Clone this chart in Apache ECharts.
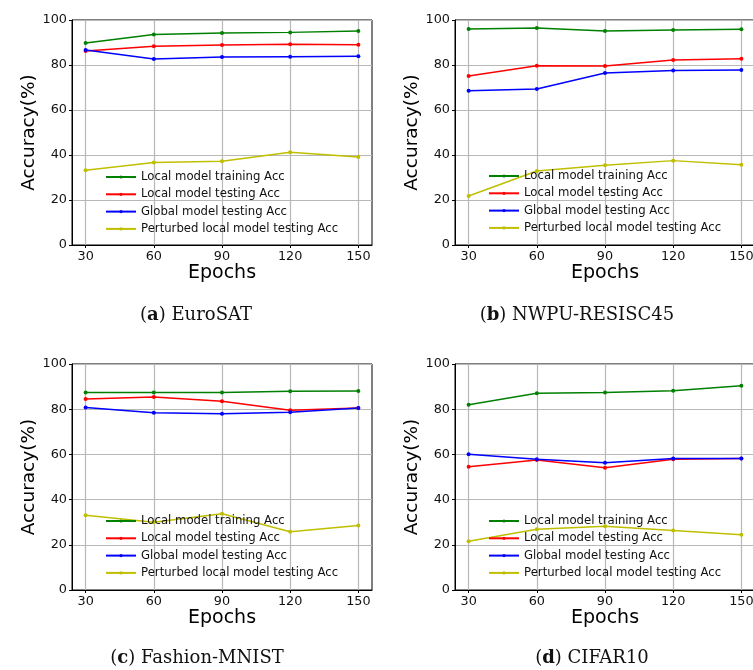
<!DOCTYPE html>
<html>
<head>
<meta charset="utf-8">
<script src="https://cdn.jsdelivr.net/npm/echarts@6/dist/echarts.min.js"></script>
<style>
  html, body { margin: 0; padding: 0; background: #fff; }
  #main { width: 753px; height: 670px; }
</style>
</head>
<body>
<div id="main"></div>
<script>
// x轴 epochs
var epochs = [30, 60, 90, 120, 150];
var yTicks = [0, 20, 40, 60, 80, 100];

var seriesNames = [
    'Local model training Acc',
    'Local model testing Acc',
    'Global model testing Acc',
    'Perturbed local model testing Acc'
];
var seriesColors = ['#008000', '#ff0000', '#0000ff', '#bfbf00'];

// (a) EuroSAT
var euroTrain = [89.8, 93.6, 94.2, 94.5, 95.1];
var euroTest = [86.2, 88.3, 88.9, 89.2, 89.0];
var euroGlobal = [86.7, 82.7, 83.6, 83.7, 83.9];
var euroPert = [33.2, 36.7, 37.2, 41.2, 39.1];

// (b) NWPU-RESISC45
var nwpuTrain = [96.0, 96.4, 95.1, 95.6, 95.9];
var nwpuTest = [75.1, 79.7, 79.6, 82.2, 82.8];
var nwpuGlobal = [68.6, 69.3, 76.4, 77.6, 77.8];
var nwpuPert = [21.8, 32.9, 35.4, 37.5, 35.7];

// (c) Fashion-MNIST
var fashionTrain = [87.4, 87.4, 87.4, 87.9, 88.0];
var fashionTest = [84.5, 85.4, 83.5, 79.5, 80.5];
var fashionGlobal = [80.7, 78.4, 78.0, 78.6, 80.5];
var fashionPert = [33.1, 30.0, 33.7, 25.8, 28.5];

// (d) CIFAR10
var cifarTrain = [82.0, 87.1, 87.4, 88.2, 90.4];
var cifarTest = [54.5, 57.5, 54.1, 57.9, 58.2];
var cifarGlobal = [60.1, 57.9, 56.3, 58.2, 58.2];
var cifarPert = [21.6, 26.9, 28.2, 26.3, 24.5];

var panelData = [
    [euroTrain, euroTest, euroGlobal, euroPert],
    [nwpuTrain, nwpuTest, nwpuGlobal, nwpuPert],
    [fashionTrain, fashionTest, fashionGlobal, fashionPert],
    [cifarTrain, cifarTest, cifarGlobal, cifarPert]
];
var captionLetters = ['a', 'b', 'c', 'd'];
var captionNames = ['EuroSAT', 'NWPU-RESISC45', 'Fashion-MNIST', 'CIFAR10'];

// 每个子图的位置
var panelPos = [
    {left: 72, top: 20, height: 225, legendLeft: 105, legendTop: 170, capX: 196, capY: 315},
    {left: 455, top: 20, height: 225, legendLeft: 488, legendTop: 169, capX: 577, capY: 315},
    {left: 72, top: 364, height: 226, legendLeft: 105, legendTop: 514, capX: 197, capY: 658},
    {left: 455, top: 364, height: 226, legendLeft: 488, legendTop: 514, capX: 592, capY: 658}
];

var sansFont = 'DejaVu Sans';

function pairs(xs, ys) {
    var out = [];
    for (var i = 0; i < xs.length; i++) {
        out.push([xs[i], ys[i]]);
    }
    return out;
}

var grids = [], xAxes = [], yAxes = [], series = [], legends = [], texts = [];

for (var p = 0; p < 4; p++) {
    var pos = panelPos[p];
    grids.push({
        left: pos.left, top: pos.top, width: 300, height: pos.height,
        show: true, borderColor: '#000', borderWidth: 1,
        outerBoundsMode: 'none', containLabel: false
    });
    xAxes.push({
        gridIndex: p,
        type: 'value',
        min: 24, max: 156,
        name: 'Epochs',
        nameLocation: 'middle',
        nameGap: 17,
        nameTextStyle: {fontFamily: sansFont, fontSize: 19, color: '#000'},
        axisLine: {show: true, lineStyle: {color: '#000', width: 1}},
        axisTick: {show: true, length: 3, customValues: epochs, lineStyle: {color: '#000'}},
        axisLabel: {customValues: epochs, margin: 5, fontFamily: sansFont, fontSize: 12.8, color: '#111'},
        splitLine: {show: true, lineStyle: {color: '#b8b8b8', width: 1.2}}
    });
    yAxes.push({
        gridIndex: p,
        type: 'value',
        min: 0, max: 100, interval: 20,
        name: 'Accuracy(%)',
        nameLocation: 'middle',
        nameGap: 32,
        nameTextStyle: {fontFamily: sansFont, fontSize: 18.5, color: '#000'},
        axisLine: {show: true, lineStyle: {color: '#000', width: 1}},
        axisTick: {show: true, length: 3, lineStyle: {color: '#000'}},
        axisLabel: {margin: 5, fontFamily: sansFont, fontSize: 12.8, color: '#111'},
        splitLine: {show: true, lineStyle: {color: '#b8b8b8', width: 1.2}}
    });
    for (var s = 0; s < 4; s++) {
        series.push({
            name: seriesNames[s],
            type: 'line',
            xAxisIndex: p,
            yAxisIndex: p,
            symbol: 'circle',
            symbolSize: 4,
            showSymbol: true,
            animation: false,
            lineStyle: {color: seriesColors[s], width: 1.5},
            itemStyle: {color: seriesColors[s]},
            data: pairs(epochs, panelData[p][s])
        });
    }
    //图例 无边框
    legends.push({
        orient: 'vertical',
        left: pos.legendLeft,
        top: pos.legendTop,
        itemWidth: 30,
        itemHeight: 4,
        itemGap: 3.3,
        padding: 0,
        selectedMode: false,
        textStyle: {fontFamily: sansFont, fontSize: 11.7, color: '#111', lineHeight: 14},
        data: seriesNames
    });
    texts.push({
        type: 'text',
        x: pos.capX,
        y: pos.capY,
        style: {
            text: '({b|' + captionLetters[p] + '}) ' + captionNames[p],
            fontFamily: 'DejaVu Serif',
            fontSize: 18,
            fill: '#111',
            align: 'center',
            verticalAlign: 'middle',
            rich: {
                b: {fontFamily: 'DejaVu Serif', fontSize: 18, fontWeight: 'bold', fill: '#111'}
            }
        }
    });
}

var Chart = echarts.init(document.getElementById('main'), null, {renderer: 'canvas'});
Chart.setOption({
    animation: false,
    backgroundColor: '#fff',
    grid: grids,
    xAxis: xAxes,
    yAxis: yAxes,
    legend: legends,
    series: series,
    graphic: texts
});
</script>
</body>
</html>
